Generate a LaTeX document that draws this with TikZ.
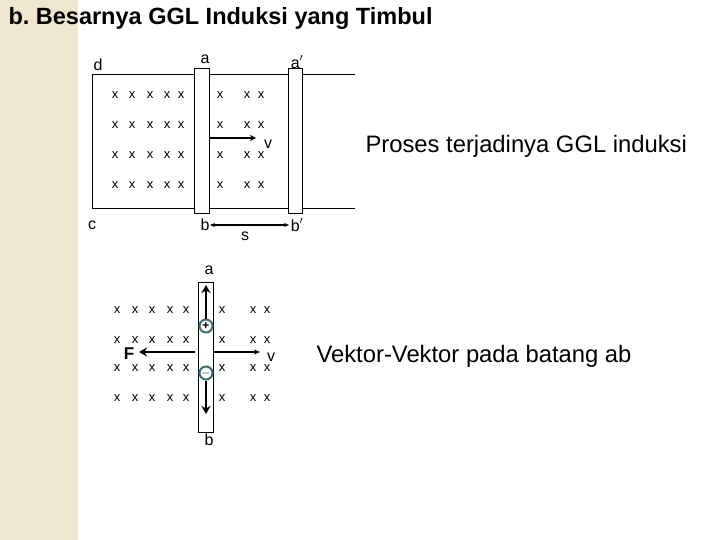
\documentclass[tikz,border=0pt]{standalone}
\usepackage{fontspec}
\setmainfont{Liberation Sans}
\usetikzlibrary{arrows.meta}
\definecolor{strip}{HTML}{EFE6CF}
\definecolor{chg}{HTML}{3C6E70}
\frenchspacing
\begin{document}
\begin{tikzpicture}[x=1pt,y=-1pt,
  lbl/.style={font=\fontsize{16}{16}\selectfont},
  big/.style={font=\fontsize{23.8}{24}\selectfont,anchor=west},
  bar/.style={draw,fill=white,line width=0.8pt},
  cr/.style={font=\fontsize{13}{13}\selectfont,inner sep=0pt},
  thickarr/.style={line width=2.6pt,-{Stealth[length=8pt,width=9pt]}},
  chgc/.style={circle,draw=chg,line width=2pt,fill=white,minimum size=13pt,inner sep=0pt,font=\fontsize{12}{12}\selectfont\bfseries}]
\useasboundingbox (0,0) rectangle (720,540);
\fill[strip] (0,0) rectangle (78,540);
\node[anchor=west,font=\fontsize{23.5}{24}\selectfont\bfseries] (title) at (5,18) {b. Besarnya GGL Induksi yang Timbul};
% top diagram
\draw[line width=0.8pt] (355,74) -- (92,74) -- (92,208) -- (355,208);
\foreach \y in {95,125,155,185}{\foreach \x in {115,132,150,167,181,220,247,261}{\node[cr] at (\x,\y) {x};}}
\node[bar,minimum width=15pt,minimum height=145pt,inner sep=0pt] (barA) at (201.5,140.5) {};
\node[bar,minimum width=14pt,minimum height=145pt,inner sep=0pt] (barA2) at (295,140.5) {};
\node[lbl] (d) at (98,65) {d};
\node[lbl] (a) at (205,59) {a};
\node[lbl] (a2) at (297,62) {a$'$};
\node[lbl] (c) at (92,225) {c};
\node[lbl] (b) at (205,225) {b};
\node[lbl] (b2) at (297,225) {b$'$};
\node[lbl] (s) at (245,236) {s};
\node[lbl] (v1) at (268,144) {v};
\coordinate (v1s) at (209,138);
\coordinate (v1e) at (256,138);
\draw[line width=2pt,-{Stealth[length=6pt,width=6pt]}] (v1s) -- (v1e);
\coordinate (ss) at (210,225);
\coordinate (se) at (289,225);
\draw[line width=1.3pt,{Stealth[length=5pt,width=4pt]}-{Stealth[length=5pt,width=4pt]}] (ss) -- (se);
\node[big] (t1) at (362,146) {Proses terjadinya GGL induksi};
% bottom diagram
\foreach \y in {310,340,368,398}{\foreach \x in {117,135,152,170,186,222,253,267}{\node[cr] at (\x,\y) {x};}}
\node[bar,minimum width=15pt,minimum height=150pt,inner sep=0pt] (bar2) at (206,357) {};
\node[lbl] (a3) at (209,270) {a};
\node[lbl] (b3) at (209,440) {b};
\node[chgc] (plus) at (206,326) {+};
\node[chgc] (minus) at (206,373) {$-$};
\coordinate (up) at (206,285);
\coordinate (down) at (206,414);
\draw[thickarr] (plus) -- (up);
\draw[thickarr] (minus) -- (down);
\node[font=\fontsize{17}{17}\selectfont\bfseries] (F) at (129,354) {F};
\coordinate (fs) at (195,352);
\coordinate (fe) at (139,352);
\draw[thickarr] (fs) -- (fe);
\node[lbl] (v2) at (271,357) {v};
\coordinate (v2s) at (213,352);
\coordinate (v2e) at (260,352);
\draw[line width=1.4pt,-{Stealth[length=6pt,width=5pt]}] (v2s) -- (v2e);
\node[big] (t2) at (313,356) {Vektor-Vektor pada batang ab};
\end{tikzpicture}
\end{document}
